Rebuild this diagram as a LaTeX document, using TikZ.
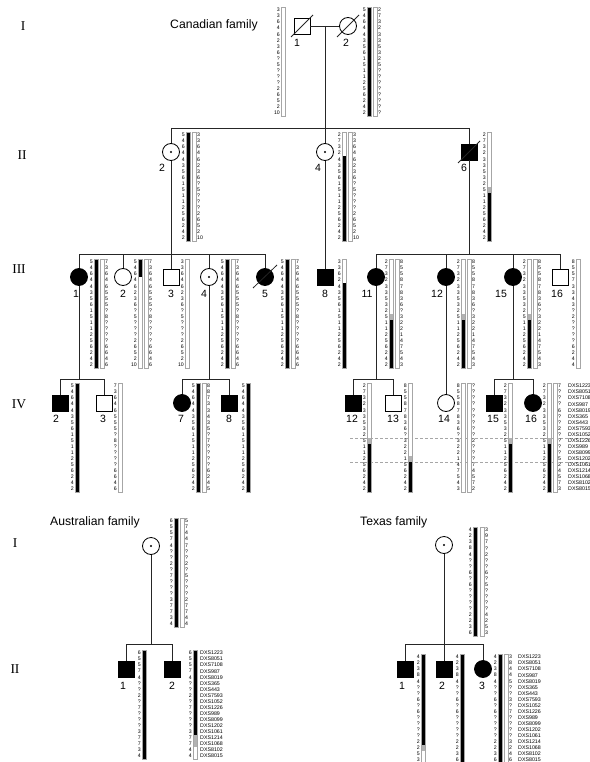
\documentclass[tikz,border=0pt]{standalone}
\usepackage{fontspec}
\setmainfont{Liberation Sans}
\newfontfamily\genfont{Liberation Serif}
\usepackage{tikz}

% haplotypes, Canadian family
\def\hapA{5,4,6,4,4,3,5,6,1,5,1,1,2,5,6,2,4,2}
\def\hapB{3,3,6,4,6,2,3,6,?,5,?,?,?,2,6,5,2,10}
\def\hapC{2,7,3,2,3,3,5,3,2,5,?,?,?,?,?,?,?,?}
\def\hapD{7,3,6,4,6,5,5,5,?,8,?,?,?,?,6,6,4,6}
\def\hapE{8,5,5,8,7,8,3,6,?,3,2,2,1,4,7,5,4,3}
\def\hapF{2,7,3,2,3,3,5,3,2,5,1,1,2,5,6,2,4,2}
% haplotypes, Australian and Texas families
\def\hapG{6,5,5,7,4,?,?,2,?,7,?,?,?,3,7,7,3,4}
\def\hapH{4,2,3,8,4,?,?,6,?,6,?,?,?,?,2,2,3,6}
\def\dxslist{DXS1223,DXS8051,DXS7108,DXS987,DXS8019,DXS365,DXS443,DXS7593,DXS1052,DXS1226,DXS989,DXS8099,DXS1202,DXS1061,DXS1214,DXS1068,DXS8102,DXS8015}

% one column of alleles: name, x, first row, anchor, list
\newcommand{\alleles}[5]{%
  \edef\alist{#5}%
  \foreach \val [count=\k from 0] in \alist
    \node[allele, anchor=#4] (#1-\k) at (#2,#3+\k*6.06) {\val};}
% one chromosome bar: x centre, first row, segments from/to/colour
\newcommand{\chrom}[3]{%
  \foreach \ya/\yb/\col in {#3}
    \fill[\col] (#1-2.2,#2-3+\ya*6.06) rectangle (#1+2.2,#2-3+\yb*6.06);
  \draw[chrom] (#1-2.2,#2-3) rectangle (#1+2.2,#2-3+18*6.06);}
% marker names: name, x, first row
\newcommand{\dxsnames}[3]{%
  \foreach \val [count=\k from 0] in \dxslist
    \node[marker] (#1-\k) at (#2,#3+\k*6.06) {\val};}

\begin{document}
\begin{tikzpicture}[x=1pt, y=-1pt,
  sym/.style={draw, line width=0.8pt, inner sep=0pt},
  male/.style={sym, rectangle, minimum size=16pt},
  female/.style={sym, circle, minimum size=17pt},
  aff/.style={fill=black},
  link/.style={line width=0.8pt, black!85},
  allele/.style={font=\fontsize{5.2}{5.2}\selectfont, inner sep=0pt},
  marker/.style={font=\fontsize{5.3}{5.3}\selectfont, inner sep=0pt, anchor=west},
  idlabel/.style={font=\fontsize{10.5}{10.5}\selectfont, inner sep=0pt},
  gen/.style={font=\genfont\fontsize{13.5}{13.5}\selectfont, inner sep=0pt},
  family/.style={font=\fontsize{12.2}{12.2}\selectfont, inner sep=0pt, anchor=west},
  chrom/.style={draw=black!35, line width=0.4pt},
  gapline/.style={densely dashed, black!35, line width=0.5pt}]

  \clip (0,0) rectangle (589,762);

  % Generation labels and titles
  \node[gen] (gI) at (23,26) {I};
  \node[gen] (gII) at (22,155) {II};
  \node[gen] (gIII) at (19,269) {III};
  \node[gen] (gIV) at (19,404) {IV};
  \node[gen] (aGI) at (15,543) {I};
  \node[gen] (aGII) at (15,669) {II};
  \node[family] (tCan) at (170,25) {Canadian family};
  \node[family] (tAus) at (50,522) {Australian family};
  \node[family] (tTex) at (360,522) {Texas family};

  % Canadian family, generation I
  \node[male] (cI1) at (302,26) {};
  \node[female] (cI2) at (348,26) {};
  \draw[link] (cI1.center) ++(-11,11) -- ++(22,-22);
  \draw[link] (cI2.center) ++(-11,11) -- ++(22,-22);
  \node[idlabel] (lI1) at (297,43) {1};
  \node[idlabel] (lI2) at (346,43) {2};
  \draw[link] (cI1) -- (cI2);
  \coordinate (mI) at (325,26);
  \coordinate (sII) at (0,128);
  \draw[link] (mI) -- (mI |- sII);

  % Canadian family, generation II
  \node[female] (cII2) at (171,152) {};
  \node[female] (cII4) at (325,152) {};
  \node[male, aff] (cII6) at (469,152) {};
  \fill (cII2) circle (1.1);
  \fill (cII4) circle (1.1);
  \draw[link] (cII6.center) ++(-11,11) -- ++(22,-22);
  \node[idlabel] (lII2) at (162,168) {2};
  \node[idlabel] (lII4) at (318,168) {4};
  \node[idlabel] (lII6) at (464,168) {6};
  \draw[link] (cII2 |- sII) -- (cII6 |- sII);
  \foreach \n in {cII2,cII4,cII6}
    \draw[link] (\n |- sII) -- (\n);

  % Canadian family, generation III
  \coordinate (sIII) at (0,254);
  \node[female, aff] (cIII1) at (79,277) {};
  \node[female] (cIII2) at (123,277) {};
  \node[male] (cIII3) at (171,277) {};
  \node[female] (cIII4) at (209,277) {};
  \node[female, aff] (cIII5) at (265,277) {};
  \node[male, aff] (cIII8) at (325,277) {};
  \node[female, aff] (cIII11) at (376,277) {};
  \node[female, aff] (cIII12) at (446,277) {};
  \node[female, aff] (cIII15) at (513,277) {};
  \node[male] (cIII16) at (560,277) {};
  \fill (cIII4) circle (1.1);
  \draw[link] (cIII5.center) ++(-12,11) -- ++(24,-23);
  \foreach \n/\x/\lab in {1/76/1, 2/123/2, 3/171/3, 4/204/4, 5/265/5, 8/325/8,
                          11/367/11, 12/437/12, 15/501/15, 16/557/16}
    \node[idlabel] (lIII\n) at (\x,294) {\lab};
  \draw[link] (cII2) -- (cII2 |- sIII);
  \draw[link] (cIII1 |- sIII) -- (cIII5 |- sIII);
  \foreach \n in {cIII1,cIII2,cIII3,cIII4,cIII5}
    \draw[link] (\n |- sIII) -- (\n);
  \draw[link] (cII4) -- (cIII8);
  \draw[link] (cII6) -- (cII6 |- sIII);
  \draw[link] (cIII11 |- sIII) -- (cIII16 |- sIII);
  \foreach \n in {cIII11,cIII12,cIII15,cIII16}
    \draw[link] (\n |- sIII) -- (\n);

  % Canadian family, generation IV
  \coordinate (sIV) at (0,379);
  \node[male, aff] (cIV2) at (60,403) {};
  \node[male] (cIV3) at (104,403) {};
  \node[female, aff] (cIV7) at (182,403) {};
  \node[male, aff] (cIV8) at (229,403) {};
  \node[male, aff] (cIV12) at (353,403) {};
  \node[male] (cIV13) at (393,403) {};
  \node[female] (cIV14) at (446,403) {};
  \node[male, aff] (cIV15) at (494,403) {};
  \node[female, aff] (cIV16) at (533,403) {};
  \foreach \n/\x in {2/56, 3/103, 7/181, 8/229, 12/352, 13/393, 14/444, 15/493, 16/531}
    \node[idlabel] (lIV\n) at (\x,419) {\n};
  \foreach \p/\a/\b in {cIII1/cIV2/cIV3, cIII4/cIV7/cIV8, cIII11/cIV12/cIV13, cIII15/cIV15/cIV16} {
    \draw[link] (\p) -- (\p |- sIV);
    \draw[link] (\a |- sIV) -- (\b |- sIV);
    \draw[link] (\a |- sIV) -- (\a);
    \draw[link] (\b |- sIV) -- (\b);
  }
  \draw[link] (cIII12) -- (cIV14);
  \draw[gapline] (350,438) -- (589,438);
  \draw[gapline] (350,462) -- (589,462);

  % Canadian haplotypes, generation I
  \chrom{283}{10}{0/18/white}
  \alleles{hI1}{280}{10}{east}{\hapB}
  \chrom{369}{10}{0/18/black}
  \chrom{375}{10}{0/18/white}
  \alleles{hI2a}{366}{10}{east}{\hapA}
  \alleles{hI2b}{378}{10}{west}{\hapC}

  % Canadian haplotypes, generation II
  \chrom{188}{135}{0/18/black}
  \chrom{194}{135}{0/18/white}
  \alleles{hII2a}{185}{135}{east}{\hapA}
  \alleles{hII2b}{197}{135}{west}{\hapB}
  \chrom{344}{135}{0/4/white,4/18/black}
  \chrom{350}{135}{0/18/white}
  \alleles{hII4a}{341}{135}{east}{2,7,3,2,4,3,5,6,1,5,1,1,2,5,6,2,4,2}
  \alleles{hII4b}{353}{135}{west}{\hapB}
  \chrom{489}{135}{0/9/white,9/10/black!30,10/18/black}
  \alleles{hII6}{486}{135}{east}{\hapF}

  % Canadian haplotypes, generation III
  \chrom{96}{262}{0/18/black}
  \chrom{102}{262}{0/18/white}
  \alleles{hIII1a}{93}{262}{east}{\hapA}
  \alleles{hIII1b}{105}{262}{west}{\hapD}
  \chrom{140}{262}{0/3/black,3/18/white}
  \chrom{146}{262}{0/18/white}
  \alleles{hIII2a}{137}{262}{east}{5,4,6,4,6,2,3,6,?,5,?,?,?,2,6,5,2,10}
  \alleles{hIII2b}{149}{262}{west}{\hapD}
  \chrom{187}{262}{0/18/white}
  \alleles{hIII3}{184}{262}{east}{\hapB}
  \chrom{227}{262}{0/18/black}
  \chrom{233}{262}{0/18/white}
  \alleles{hIII4a}{224}{262}{east}{\hapA}
  \alleles{hIII4b}{236}{262}{west}{\hapD}
  \chrom{287}{262}{0/18/black}
  \chrom{293}{262}{0/18/white}
  \alleles{hIII5a}{284}{262}{east}{\hapA}
  \alleles{hIII5b}{296}{262}{west}{\hapD}
  \chrom{344}{262}{0/4/white,4/18/black}
  \alleles{hIII8}{341}{262}{east}{3,3,6,2,4,3,5,6,1,5,1,1,2,5,6,2,4,2}
  \foreach \n/\x in {11/391, 12/463, 15/529} {
    \chrom{\x}{262}{0/9/white,9/10/black!30,10/18/black}
    \chrom{\x+6}{262}{0/18/white}
    \alleles{hIII\n a}{\x-3}{262}{east}{\hapF}
    \alleles{hIII\n b}{\x+9}{262}{west}{\hapE}
  }
  \chrom{578}{262}{0/18/white}
  \alleles{hIII16}{575}{262}{east}{8,5,5,7,3,3,4,3,?,2,?,?,?,?,6,2,4,4}

  % Canadian haplotypes, generation IV
  \chrom{77}{386}{0/18/black}
  \alleles{hIV2}{74}{386}{east}{\hapA}
  \chrom{120}{386}{0/18/white}
  \alleles{hIV3}{117}{386}{east}{\hapD}
  \chrom{198}{386}{0/18/black}
  \chrom{204}{386}{0/18/white}
  \alleles{hIV7a}{195}{386}{east}{\hapA}
  \alleles{hIV7b}{207}{386}{west}{8,8,7,3,3,4,3,5,?,7,?,?,?,?,6,2,4,5}
  \chrom{248}{386}{0/18/black}
  \alleles{hIV8}{245}{386}{east}{\hapA}
  \chrom{369}{386}{0/9/white,9/10/black!30,10/18/black}
  \alleles{hIV12}{366}{386}{east}{\hapF}
  \chrom{410}{386}{0/12/white,12/13/black!30,13/18/black}
  \alleles{hIV13}{407}{386}{east}{8,5,5,8,7,8,3,6,?,3,2,2,1,5,6,2,4,2}
  \chrom{463}{386}{0/18/white}
  \chrom{469}{386}{0/18/white}
  \alleles{hIV14a}{460}{386}{east}{\hapE}
  \alleles{hIV14b}{472}{386}{west}{?,?,?,?,?,?,?,?,?,2,?,?,?,7,4,5,7,2}
  \chrom{510}{386}{0/9/white,9/10/black!30,10/18/black}
  \alleles{hIV15}{507}{386}{east}{\hapF}
  \chrom{549}{386}{0/9/white,9/10/black!30,10/18/black}
  \chrom{555}{386}{0/18/white}
  \alleles{hIV16a}{546}{386}{east}{\hapF}
  \alleles{hIV16b}{558}{386}{west}{7,?,?,?,6,?,?,2,?,?,?,?,5,2,4,5,7,3}
  \dxsnames{mCan}{568}{386}

  % Australian family
  \coordinate (sA) at (0,644);
  \node[female] (aI1) at (151,546) {};
  \fill (aI1) circle (1.1);
  \node[male, aff] (aII1) at (126,669) {};
  \node[male, aff] (aII2) at (172,669) {};
  \node[idlabel] (laII1) at (123,686) {1};
  \node[idlabel] (laII2) at (172,686) {2};
  \draw[link] (aI1) -- (aI1 |- sA);
  \draw[link] (aII1 |- sA) -- (aII2 |- sA);
  \foreach \n in {aII1,aII2}
    \draw[link] (\n |- sA) -- (\n);
  \chrom{176}{521}{0/18/black}
  \chrom{182}{521}{0/18/white}
  \alleles{haIa}{173}{521}{east}{\hapG}
  \alleles{haIb}{185}{521}{west}{5,7,4,4,7,?,?,2,?,5,?,?,?,2,7,7,4,4}
  \chrom{144}{653}{0/18/black}
  \alleles{haII1}{141}{653}{east}{\hapG}
  \chrom{195}{653}{0/14/black,14/16/black!30,16/18/white}
  \alleles{haII2}{192}{653}{east}{6,5,5,7,4,?,?,2,?,7,?,?,?,3,7,7,4,4}
  \dxsnames{mAus}{200}{653}

  % Texas family
  \coordinate (sT) at (0,644);
  \node[female] (tI1) at (444,545) {};
  \fill (tI1) circle (1.1);
  \node[male, aff] (tII1) at (405,669) {};
  \node[male, aff] (tII2) at (444,669) {};
  \node[female, aff] (tII3) at (483,669) {};
  \node[idlabel] (ltII1) at (402,686) {1};
  \node[idlabel] (ltII2) at (442,686) {2};
  \node[idlabel] (ltII3) at (482,686) {3};
  \draw[link] (tI1) -- (tII2);
  \draw[link] (tII1 |- sT) -- (tII3 |- sT);
  \foreach \n in {tII1,tII3}
    \draw[link] (\n |- sT) -- (\n);
  \chrom{475}{530}{0/18/black}
  \chrom{482}{530}{0/18/white}
  \alleles{htIa}{472}{530}{east}{\hapH}
  \alleles{htIb}{485}{530}{west}{3,9,7,?,2,?,?,6,?,5,?,?,?,?,4,2,5,3}
  \chrom{423}{657}{0/15/black,15/16/black!30,16/18/white}
  \alleles{htII1}{420}{657}{east}{4,2,3,8,4,?,?,6,?,6,?,?,?,?,2,2,5,3}
  \chrom{462}{657}{0/18/black}
  \alleles{htII2}{459}{657}{east}{\hapH}
  \chrom{500}{657}{0/18/black}
  \chrom{506}{657}{0/18/white}
  \alleles{htII3a}{497}{657}{east}{\hapH}
  \alleles{htII3b}{509}{657}{west}{3,8,4,4,5,?,?,3,?,7,?,?,?,?,3,2,4,6}
  \dxsnames{mTex}{518}{657}

\end{tikzpicture}
\end{document}
